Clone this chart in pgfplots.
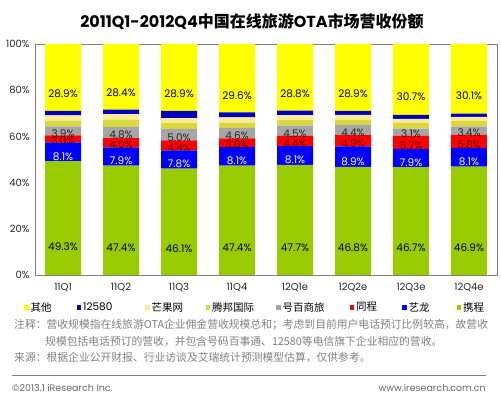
\documentclass[border=0pt]{standalone}
\usepackage{pgfplots}
\pgfplotsset{compat=1.18}
\usepackage{pgfplotstable}
\usepackage{fontspec}
\setmainfont{Poppins}
\newfontfamily\cjk{Noto Sans CJK SC}
\definecolor{cXC}{HTML}{99CC00}
\definecolor{cYL}{HTML}{0000FF}
\definecolor{cTC}{HTML}{FF0000}
\definecolor{cHB}{HTML}{A6A6A6}
\definecolor{cTB}{HTML}{D9D93F}
\definecolor{cMG}{HTML}{FAEC96}
\definecolor{cTW}{HTML}{0000BF}
\definecolor{cQT}{HTML}{FFFF00}
\definecolor{cTCtxt}{HTML}{5A0000}
\definecolor{noteg}{HTML}{808080}

\pgfplotstableread{
x xc yl tc hb tb mg tw qt
0 49.3 8.1 3.0 3.9 2.5 2.3 2.0 28.9
1 47.4 7.9 4.0 4.8 3.2 2.3 2.0 28.4
2 46.1 7.8 4.4 5.0 2.4 2.2 3.2 28.9
3 47.4 8.1 3.6 4.6 2.3 2.2 2.2 29.6
4 47.7 8.1 4.4 4.5 2.3 2.2 2.0 28.8
5 46.8 8.9 4.9 4.4 2.3 2.0 1.8 28.9
6 46.7 7.9 5.7 3.1 2.6 1.6 1.7 30.7
7 46.9 8.1 5.8 3.4 2.5 1.8 1.4 30.1
}\shares

\pgfplotsset{
  calc half/.code={%
    \pgfkeys{/pgf/fpu=true,/pgf/fpu/output format=fixed}%
    \pgfmathsetmacro\halfoff{\pgfplotspointmeta*0.5775}%
    \pgfkeys{/pgf/fpu=false}%
  },
  lab/.style={
    point meta=explicit,
    nodes near coords={\pgfmathprintnumber[fixed,fixed zerofill,precision=1]{\pgfplotspointmeta}\%},
    every node near coord/.append style={/pgfplots/calc half, anchor=center, yshift=-\halfoff pt,
      font=\fontsize{10.5}{12}\selectfont, text=#1, inner sep=0pt},
  },
  sq/.style={legend image code/.code={\fill[#1] (0pt,-2.2pt) rectangle (4.5pt,2.2pt);}},
}

\begin{document}
\begin{tikzpicture}
\useasboundingbox (0pt,0pt) rectangle (501pt,399pt);
\begin{axis}[
  at={(35pt,124pt)}, anchor=south west,
  width=462pt, height=231pt, scale only axis,
  ybar stacked, bar width=36pt,
  xmin=-0.483, xmax=7.483, ymin=0, ymax=100,
  xtick={0,...,7},
  xticklabels={11Q1,11Q2,11Q3,11Q4,12Q1e,12Q2e,12Q3e,12Q4e},
  ytick={0,20,...,100},
  yticklabel={\pgfmathprintnumber{\tick}\%},
  /pgf/number format/assume math mode=true,
  major tick length=0pt,
  axis line style={draw=black!50, line width=0.9pt},
  tick label style={font=\fontsize{10}{12}\selectfont, text=black!85},
  xticklabel style={yshift=-5pt},
  yticklabel style={xshift=-2pt},
  legend columns=8,
  legend cell align=left,
  legend style={at={(0,0)}, anchor=north west, xshift=-14pt, yshift=-23pt,
    draw=none, fill=none, font=\fontsize{10.5}{12}\selectfont\cjk,
    nodes={inner xsep=2pt},
    /tikz/every even column/.append style={column sep=0pt},
    /tikz/every odd column/.append style={column sep=0pt}},
]
\addlegendimage{sq, fill=cQT, draw=none}
\addlegendentry{\makebox[44pt][l]{其他}}
\addlegendimage{sq, fill=cTW, draw=none}
\addlegendentry{\makebox[60pt][l]{\rmfamily 12580}}
\addlegendimage{sq, fill=cMG, draw=none}
\addlegendentry{\makebox[52pt][l]{芒果网}}
\addlegendimage{sq, fill=cTB, draw=none}
\addlegendentry{\makebox[62pt][l]{腾邦国际}}
\addlegendimage{sq, fill=cHB, draw=none}
\addlegendentry{\makebox[65pt][l]{号百商旅}}
\addlegendimage{sq, fill=cTC, draw=none}
\addlegendentry{\makebox[44pt][l]{同程}}
\addlegendimage{sq, fill=cYL, draw=none}
\addlegendentry{\makebox[46pt][l]{艺龙}}
\addlegendimage{sq, fill=cXC, draw=none}
\addlegendentry{\makebox[30pt][l]{携程}}
\addplot[fill=cXC, draw=none, lab=black, forget plot] table[x=x, y=xc, meta=xc] {\shares};
\addplot[fill=cYL, draw=none, lab=white, forget plot] table[x=x, y=yl, meta=yl] {\shares};
\addplot[fill=cTC, draw=none, lab=cTCtxt, forget plot] table[x=x, y=tc, meta=tc] {\shares};
\addplot[fill=cHB, draw=none, lab=black!85, forget plot] table[x=x, y=hb, meta=hb] {\shares};
\addplot[fill=cTB, draw=none, forget plot] table[x=x, y=tb] {\shares};
\addplot[fill=cMG, draw=none, forget plot] table[x=x, y=mg] {\shares};
\addplot[fill=cTW, draw=none, forget plot] table[x=x, y=tw] {\shares};
\addplot[fill=cQT, draw=none, lab=black, forget plot] table[x=x, y=qt, meta=qt] {\shares};
\end{axis}
\node[font=\bfseries\fontsize{16}{18}\selectfont] at (252pt,377pt)
  {2011Q1-2012Q4{\cjk\bfseries 中国在线旅游}OTA{\cjk\bfseries 市场营收份额}};
\node[anchor=west, text=noteg, inner sep=0pt, font=\cjk\fontsize{10.8}{13}\selectfont] at (14pt,74pt)
  {注释：营收规模指在线旅游OTA企业佣金营收规模总和；考虑到目前用户电话预订比例较高，故营收};
\node[anchor=west, text=noteg, inner sep=0pt, font=\cjk\fontsize{10.8}{13}\selectfont] at (45pt,58pt)
  {规模包括电话预订的营收，并包含号码百事通、12580等电信旗下企业相应的营收。};
\node[anchor=west, text=noteg, inner sep=0pt, font=\cjk\fontsize{10.8}{13}\selectfont] at (14pt,42pt)
  {来源：根据企业公开财报、行业访谈及艾瑞统计预测模型估算，仅供参考。};
\draw[black!50, line width=0.8pt] (12pt,24pt) -- (486pt,24pt);
\node[anchor=west, text=black!60, inner sep=0pt, font=\fontsize{9.5}{11}\selectfont] at (12pt,11pt)
  {©2013.1 iResearch Inc.};
\node[anchor=east, text=black!60, inner sep=0pt, font=\fontsize{9.5}{11}\selectfont] at (486pt,11pt)
  {www.iresearch.com.cn};
\end{tikzpicture}
\end{document}
